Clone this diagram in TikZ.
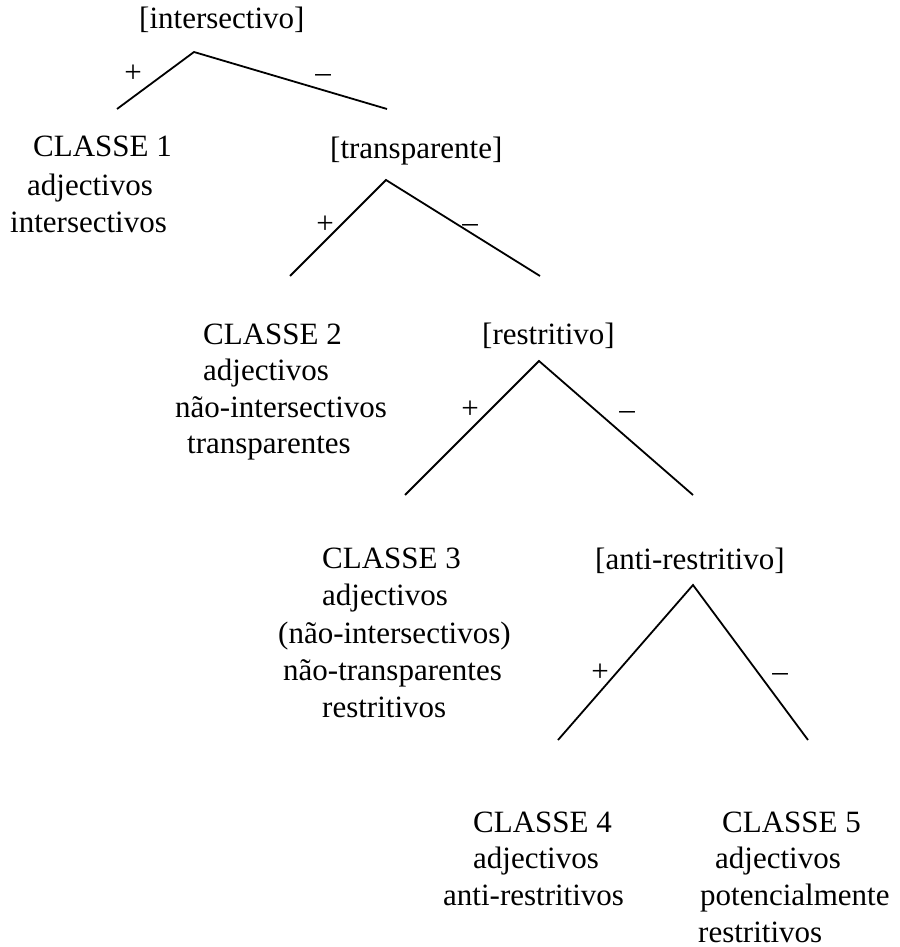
\documentclass[tikz,border=0pt]{standalone}
\usepackage{fontspec}
\setmainfont{Liberation Serif}
\newcommand{\treefont}{\fontsize{31pt}{37pt}\selectfont}
\tikzset{
  feature/.style={
    font=\treefont,
    inner sep=0pt,
    anchor=base west
  },
  classline/.style={
    font=\treefont,
    inner sep=0pt,
    anchor=base west
  },
  sign/.style={
    font=\treefont,
    inner sep=0pt,
    anchor=base
  },
  branch/.style={line width=1.8pt,black}
}

\begin{document}
\begin{tikzpicture}[x=1pt,y=-1pt]
        \useasboundingbox (0,0) rectangle (899,947);
        % features
        \node[feature] (intersect) at (139,29) {[intersectivo]};
        \node[feature] (transp) at (330,158) {[transparente]};
        \node[feature] (restr) at (482,344) {[restritivo]};
        \node[feature] (antirestr) at (595,569) {[anti-restritivo]};
        % branches
        \coordinate (top1) at (194,52);
        \coordinate (left1) at (117,109);
        \coordinate (right1) at (387,109);
        \coordinate (top2) at (386,180);
        \coordinate (left2) at (290,276);
        \coordinate (right2) at (540,276);
        \coordinate (top3) at (539,361);
        \coordinate (left3) at (405,495);
        \coordinate (right3) at (693,495);
        \coordinate (top4) at (693,585);
        \coordinate (left4) at (558,740);
        \coordinate (right4) at (808,740);
        \draw[branch] (left1) -- (top1) -- (right1);
        \draw[branch] (left2) -- (top2) -- (right2);
        \draw[branch] (left3) -- (top3) -- (right3);
        \draw[branch] (left4) -- (top4) -- (right4);
        \node[sign] (p1) at (133,83) {+};
        \node[sign] (m1) at (323,83) {–};
        \node[sign] (p2) at (325,233) {+};
        \node[sign] (m2) at (470,232) {–};
        \node[sign] (p3) at (470,418) {+};
        \node[sign] (m3) at (627,419) {–};
        \node[sign] (p4) at (600,681) {+};
        \node[sign] (m4) at (780,681) {–};
        % classes
        \node[classline] (c1a) at (33,157) {CLASSE 1};
        \node[classline] (c1b) at (27,195) {adjectivos};
        \node[classline] (c1c) at (10,232) {intersectivos};
        \node[classline] (c2a) at (203,344) {CLASSE 2};
        \node[classline] (c2b) at (203,380) {adjectivos};
        \node[classline] (c2c) at (175,417) {não-intersectivos};
        \node[classline] (c2d) at (187,453) {transparentes};
        \node[classline] (c3a) at (322,568) {CLASSE 3};
        \node[classline] (c3b) at (322,605) {adjectivos};
        \node[classline] (c3c) at (278,643) {(não-intersectivos)};
        \node[classline] (c3d) at (283,680) {não-transparentes};
        \node[classline] (c3e) at (322,717) {restritivos};
        \node[classline] (c4a) at (473,832) {CLASSE 4};
        \node[classline] (c4b) at (473,868) {adjectivos};
        \node[classline] (c4c) at (443,905) {anti-restritivos};
        \node[classline] (c5a) at (722,832) {CLASSE 5};
        \node[classline] (c5b) at (715,868) {adjectivos};
        \node[classline] (c5c) at (700,905) {potencialmente};
        \node[classline] (c5d) at (698,942) {restritivos};
      \end{tikzpicture}
\end{document}
